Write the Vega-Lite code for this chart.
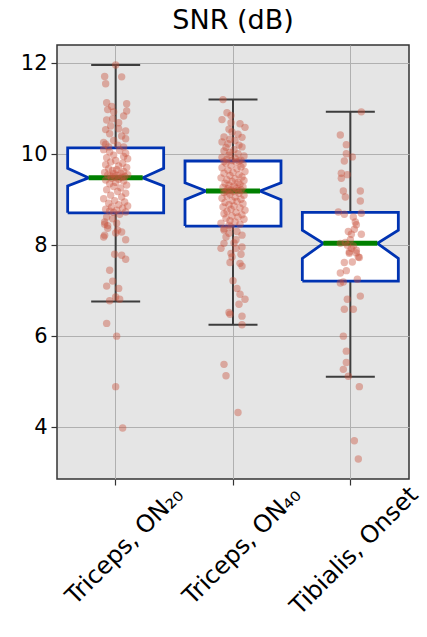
{
  "$schema": "https://vega.github.io/schema/vega-lite/v6.json",
  "autosize": "none",
  "width": 352,
  "height": 434,
  "padding": {"left": 57, "top": 45, "right": 18, "bottom": 158},
  "background": "white",
  "title": {"text": "SNR (dB)", "fontSize": 27, "font": "DejaVu Sans", "fontWeight": "normal", "color": "black", "offset": 10},
  "config": {
    "view": {"stroke": "#333333", "strokeWidth": 1.5, "fill": "#e5e5e5"},
    "axis": {"domain": false, "grid": true, "gridColor": "#b0b0b0", "gridWidth": 1, "tickColor": "#333333", "tickSize": 6, "tickWidth": 1.2, "labelColor": "black", "labelFont": "DejaVu Sans", "titleFont": "DejaVu Sans"}
  },
  "datasets": {
    "shapes": [
      {"g": "A", "part": "whisk", "k": 1, "dx": 0, "v": 6.76},
      {"g": "A", "part": "whisk", "k": 2, "dx": 0, "v": 11.96},
      {"g": "B", "part": "whisk", "k": 1, "dx": 0, "v": 6.25},
      {"g": "B", "part": "whisk", "k": 2, "dx": 0, "v": 11.20},
      {"g": "C", "part": "whisk", "k": 1, "dx": 0, "v": 5.11},
      {"g": "C", "part": "whisk", "k": 2, "dx": 0, "v": 10.93},
      {"g": "A", "part": "capLo", "k": 1, "dx": -24.5, "v": 6.76},
      {"g": "A", "part": "capLo", "k": 2, "dx": 24.5, "v": 6.76},
      {"g": "A", "part": "capHi", "k": 1, "dx": -24.5, "v": 11.96},
      {"g": "A", "part": "capHi", "k": 2, "dx": 24.5, "v": 11.96},
      {"g": "B", "part": "capLo", "k": 1, "dx": -24.5, "v": 6.25},
      {"g": "B", "part": "capLo", "k": 2, "dx": 24.5, "v": 6.25},
      {"g": "B", "part": "capHi", "k": 1, "dx": -24.5, "v": 11.20},
      {"g": "B", "part": "capHi", "k": 2, "dx": 24.5, "v": 11.20},
      {"g": "C", "part": "capLo", "k": 1, "dx": -24.5, "v": 5.11},
      {"g": "C", "part": "capLo", "k": 2, "dx": 24.5, "v": 5.11},
      {"g": "C", "part": "capHi", "k": 1, "dx": -24.5, "v": 10.93},
      {"g": "C", "part": "capHi", "k": 2, "dx": 24.5, "v": 10.93},
      {"g": "A", "part": "box", "k": 1, "dx": -48, "v": 8.71},
      {"g": "A", "part": "box", "k": 2, "dx": -48, "v": 9.30},
      {"g": "A", "part": "box", "k": 3, "dx": -27, "v": 9.48},
      {"g": "A", "part": "box", "k": 4, "dx": -48, "v": 9.69},
      {"g": "A", "part": "box", "k": 5, "dx": -48, "v": 10.14},
      {"g": "A", "part": "box", "k": 6, "dx": 48, "v": 10.14},
      {"g": "A", "part": "box", "k": 7, "dx": 48, "v": 9.69},
      {"g": "A", "part": "box", "k": 8, "dx": 27, "v": 9.48},
      {"g": "A", "part": "box", "k": 9, "dx": 48, "v": 9.30},
      {"g": "A", "part": "box", "k": 10, "dx": 48, "v": 8.71},
      {"g": "A", "part": "box", "k": 11, "dx": -48, "v": 8.71},
      {"g": "B", "part": "box", "k": 1, "dx": -48, "v": 8.42},
      {"g": "B", "part": "box", "k": 2, "dx": -48, "v": 9.00},
      {"g": "B", "part": "box", "k": 3, "dx": -27, "v": 9.19},
      {"g": "B", "part": "box", "k": 4, "dx": -48, "v": 9.37},
      {"g": "B", "part": "box", "k": 5, "dx": -48, "v": 9.85},
      {"g": "B", "part": "box", "k": 6, "dx": 48, "v": 9.85},
      {"g": "B", "part": "box", "k": 7, "dx": 48, "v": 9.37},
      {"g": "B", "part": "box", "k": 8, "dx": 27, "v": 9.19},
      {"g": "B", "part": "box", "k": 9, "dx": 48, "v": 9.00},
      {"g": "B", "part": "box", "k": 10, "dx": 48, "v": 8.42},
      {"g": "B", "part": "box", "k": 11, "dx": -48, "v": 8.42},
      {"g": "C", "part": "box", "k": 1, "dx": -48, "v": 7.21},
      {"g": "C", "part": "box", "k": 2, "dx": -48, "v": 7.71},
      {"g": "C", "part": "box", "k": 3, "dx": -27, "v": 8.04},
      {"g": "C", "part": "box", "k": 4, "dx": -48, "v": 8.33},
      {"g": "C", "part": "box", "k": 5, "dx": -48, "v": 8.72},
      {"g": "C", "part": "box", "k": 6, "dx": 48, "v": 8.72},
      {"g": "C", "part": "box", "k": 7, "dx": 48, "v": 8.33},
      {"g": "C", "part": "box", "k": 8, "dx": 27, "v": 8.04},
      {"g": "C", "part": "box", "k": 9, "dx": 48, "v": 7.71},
      {"g": "C", "part": "box", "k": 10, "dx": 48, "v": 7.21},
      {"g": "C", "part": "box", "k": 11, "dx": -48, "v": 7.21},
      {"g": "A", "part": "med", "k": 1, "dx": -27, "v": 9.48},
      {"g": "A", "part": "med", "k": 2, "dx": 27, "v": 9.48},
      {"g": "B", "part": "med", "k": 1, "dx": -27, "v": 9.19},
      {"g": "B", "part": "med", "k": 2, "dx": 27, "v": 9.19},
      {"g": "C", "part": "med", "k": 1, "dx": -27, "v": 8.04},
      {"g": "C", "part": "med", "k": 2, "dx": 27, "v": 8.04}
    ],
    "points": [
      {"g": "A", "v": 11.96, "j": 0}, {"g": "A", "v": 11.71, "j": -11}, {"g": "A", "v": 11.70, "j": 6}, {"g": "A", "v": 11.55, "j": -10},
      {"g": "A", "v": 11.13, "j": -9}, {"g": "A", "v": 11.11, "j": 11}, {"g": "A", "v": 11.05, "j": -4}, {"g": "A", "v": 10.98, "j": -8},
      {"g": "A", "v": 10.93, "j": -2}, {"g": "A", "v": 10.95, "j": 11}, {"g": "A", "v": 10.84, "j": 8}, {"g": "A", "v": 10.78, "j": -3},
      {"g": "A", "v": 10.75, "j": -9}, {"g": "A", "v": 10.69, "j": 3}, {"g": "A", "v": 10.62, "j": -5}, {"g": "A", "v": 10.54, "j": -10},
      {"g": "A", "v": 10.56, "j": 3}, {"g": "A", "v": 10.51, "j": 10}, {"g": "A", "v": 10.45, "j": -6}, {"g": "A", "v": 10.40, "j": 6},
      {"g": "A", "v": 10.34, "j": 10}, {"g": "A", "v": 10.30, "j": -2}, {"g": "A", "v": 10.22, "j": -10}, {"g": "A", "v": 10.16, "j": -7},
      {"g": "A", "v": 10.16, "j": 8}, {"g": "A", "v": 10.20, "j": 2}, {"g": "A", "v": 10.26, "j": -12},
      {"g": "A", "v": 10.10, "j": -12}, {"g": "A", "v": 10.08, "j": 4}, {"g": "A", "v": 10.05, "j": -6}, {"g": "A", "v": 10.02, "j": 10},
      {"g": "A", "v": 9.98, "j": -2}, {"g": "A", "v": 9.95, "j": 8}, {"g": "A", "v": 9.92, "j": -9}, {"g": "A", "v": 9.90, "j": 12},
      {"g": "A", "v": 9.86, "j": 0}, {"g": "A", "v": 9.83, "j": -5}, {"g": "A", "v": 9.80, "j": 7}, {"g": "A", "v": 9.77, "j": -10},
      {"g": "A", "v": 9.74, "j": 3}, {"g": "A", "v": 9.71, "j": 11}, {"g": "A", "v": 9.68, "j": -7}, {"g": "A", "v": 9.66, "j": 1},
      {"g": "A", "v": 9.64, "j": -3}, {"g": "A", "v": 9.62, "j": 8}, {"g": "A", "v": 9.60, "j": -11}, {"g": "A", "v": 9.58, "j": 5},
      {"g": "A", "v": 9.57, "j": -2}, {"g": "A", "v": 9.55, "j": 12}, {"g": "A", "v": 9.54, "j": -8}, {"g": "A", "v": 9.53, "j": 2},
      {"g": "A", "v": 9.52, "j": -5}, {"g": "A", "v": 9.51, "j": 9}, {"g": "A", "v": 9.50, "j": -1}, {"g": "A", "v": 9.49, "j": 6},
      {"g": "A", "v": 9.47, "j": -4}, {"g": "A", "v": 9.45, "j": 3}, {"g": "A", "v": 9.43, "j": -10}, {"g": "A", "v": 9.41, "j": 8},
      {"g": "A", "v": 9.38, "j": 0}, {"g": "A", "v": 9.35, "j": -6}, {"g": "A", "v": 9.32, "j": 11}, {"g": "A", "v": 9.29, "j": -2},
      {"g": "A", "v": 9.26, "j": 5}, {"g": "A", "v": 9.22, "j": -9}, {"g": "A", "v": 9.18, "j": 2}, {"g": "A", "v": 9.14, "j": 10},
      {"g": "A", "v": 9.10, "j": -5}, {"g": "A", "v": 9.06, "j": 6}, {"g": "A", "v": 9.02, "j": -12}, {"g": "A", "v": 8.98, "j": -1},
      {"g": "A", "v": 8.95, "j": 9}, {"g": "A", "v": 8.92, "j": -7}, {"g": "A", "v": 8.89, "j": 3}, {"g": "A", "v": 8.86, "j": 12},
      {"g": "A", "v": 8.84, "j": -4}, {"g": "A", "v": 8.81, "j": 7}, {"g": "A", "v": 8.79, "j": -10}, {"g": "A", "v": 8.77, "j": 1},
      {"g": "A", "v": 8.75, "j": -6}, {"g": "A", "v": 8.73, "j": 10}, {"g": "A", "v": 8.72, "j": -2},
      {"g": "A", "v": 8.68, "j": 4}, {"g": "A", "v": 8.62, "j": -9}, {"g": "A", "v": 8.58, "j": -3}, {"g": "A", "v": 8.51, "j": -11},
      {"g": "A", "v": 8.48, "j": 1}, {"g": "A", "v": 8.46, "j": -11}, {"g": "A", "v": 8.43, "j": -8}, {"g": "A", "v": 8.37, "j": -8},
      {"g": "A", "v": 8.33, "j": 2}, {"g": "A", "v": 8.29, "j": 6}, {"g": "A", "v": 8.27, "j": 0}, {"g": "A", "v": 8.22, "j": -11},
      {"g": "A", "v": 8.18, "j": -12}, {"g": "A", "v": 8.12, "j": 10}, {"g": "A", "v": 7.80, "j": -1}, {"g": "A", "v": 7.78, "j": 6},
      {"g": "A", "v": 7.69, "j": 10}, {"g": "A", "v": 7.45, "j": -6}, {"g": "A", "v": 7.21, "j": -3}, {"g": "A", "v": 7.10, "j": -9},
      {"g": "A", "v": 7.05, "j": 3}, {"g": "A", "v": 6.86, "j": 0}, {"g": "A", "v": 6.81, "j": 4}, {"g": "A", "v": 6.78, "j": -6},
      {"g": "A", "v": 6.28, "j": -9}, {"g": "A", "v": 6.00, "j": 1}, {"g": "A", "v": 4.89, "j": 0}, {"g": "A", "v": 3.98, "j": 7},

      {"g": "B", "v": 11.20, "j": -10}, {"g": "B", "v": 10.91, "j": -6}, {"g": "B", "v": 10.85, "j": -2}, {"g": "B", "v": 10.76, "j": -11},
      {"g": "B", "v": 10.69, "j": -2}, {"g": "B", "v": 10.67, "j": 7}, {"g": "B", "v": 10.59, "j": 12}, {"g": "B", "v": 10.55, "j": -4},
      {"g": "B", "v": 10.49, "j": -1}, {"g": "B", "v": 10.44, "j": 5}, {"g": "B", "v": 10.38, "j": -9}, {"g": "B", "v": 10.37, "j": 9},
      {"g": "B", "v": 10.33, "j": -3}, {"g": "B", "v": 10.30, "j": 2}, {"g": "B", "v": 10.27, "j": -11}, {"g": "B", "v": 10.23, "j": -5},
      {"g": "B", "v": 10.20, "j": 6}, {"g": "B", "v": 10.16, "j": 9}, {"g": "B", "v": 10.15, "j": -7}, {"g": "B", "v": 10.10, "j": 1},
      {"g": "B", "v": 10.07, "j": -9}, {"g": "B", "v": 10.04, "j": -3}, {"g": "B", "v": 10.01, "j": 5}, {"g": "B", "v": 9.98, "j": -4},
      {"g": "B", "v": 9.96, "j": 11}, {"g": "B", "v": 9.93, "j": -11}, {"g": "B", "v": 9.91, "j": 2}, {"g": "B", "v": 9.89, "j": -6},
      {"g": "B", "v": 9.87, "j": 8}, {"g": "B", "v": 9.86, "j": -1}, {"g": "B", "v": 9.85, "j": 6}, {"g": "B", "v": 9.84, "j": -9},
      {"g": "B", "v": 9.83, "j": 3}, {"g": "B", "v": 9.80, "j": -7}, {"g": "B", "v": 9.78, "j": 10}, {"g": "B", "v": 9.75, "j": -2},
      {"g": "B", "v": 9.72, "j": 8}, {"g": "B", "v": 9.70, "j": -11}, {"g": "B", "v": 9.68, "j": 4}, {"g": "B", "v": 9.65, "j": -5},
      {"g": "B", "v": 9.62, "j": 12}, {"g": "B", "v": 9.60, "j": 0}, {"g": "B", "v": 9.58, "j": -9}, {"g": "B", "v": 9.55, "j": 6},
      {"g": "B", "v": 9.53, "j": -3}, {"g": "B", "v": 9.50, "j": 9}, {"g": "B", "v": 9.48, "j": -12}, {"g": "B", "v": 9.46, "j": 2},
      {"g": "B", "v": 9.44, "j": -6}, {"g": "B", "v": 9.42, "j": 11}, {"g": "B", "v": 9.40, "j": -1}, {"g": "B", "v": 9.38, "j": 5},
      {"g": "B", "v": 9.36, "j": -8}, {"g": "B", "v": 9.34, "j": 7}, {"g": "B", "v": 9.32, "j": -4}, {"g": "B", "v": 9.30, "j": 1},
      {"g": "B", "v": 9.28, "j": 10}, {"g": "B", "v": 9.27, "j": -10}, {"g": "B", "v": 9.25, "j": 3}, {"g": "B", "v": 9.24, "j": -5},
      {"g": "B", "v": 9.22, "j": 8}, {"g": "B", "v": 9.21, "j": -2}, {"g": "B", "v": 9.20, "j": 5}, {"g": "B", "v": 9.19, "j": -7},
      {"g": "B", "v": 9.18, "j": 0}, {"g": "B", "v": 9.16, "j": -9}, {"g": "B", "v": 9.14, "j": 6}, {"g": "B", "v": 9.12, "j": -3},
      {"g": "B", "v": 9.10, "j": 11}, {"g": "B", "v": 9.08, "j": -6}, {"g": "B", "v": 9.06, "j": 2}, {"g": "B", "v": 9.03, "j": -11},
      {"g": "B", "v": 9.01, "j": 8}, {"g": "B", "v": 8.98, "j": -1}, {"g": "B", "v": 8.96, "j": 4}, {"g": "B", "v": 8.94, "j": -8},
      {"g": "B", "v": 8.91, "j": 10}, {"g": "B", "v": 8.89, "j": -4}, {"g": "B", "v": 8.86, "j": 1}, {"g": "B", "v": 8.84, "j": -10},
      {"g": "B", "v": 8.82, "j": 7}, {"g": "B", "v": 8.79, "j": -2}, {"g": "B", "v": 8.77, "j": 12}, {"g": "B", "v": 8.74, "j": -6},
      {"g": "B", "v": 8.72, "j": 3}, {"g": "B", "v": 8.69, "j": -9}, {"g": "B", "v": 8.67, "j": 9}, {"g": "B", "v": 8.64, "j": -1},
      {"g": "B", "v": 8.62, "j": 5}, {"g": "B", "v": 8.59, "j": -7}, {"g": "B", "v": 8.57, "j": 11}, {"g": "B", "v": 8.54, "j": -3},
      {"g": "B", "v": 8.51, "j": 2}, {"g": "B", "v": 8.48, "j": -12}, {"g": "B", "v": 8.46, "j": 7}, {"g": "B", "v": 8.44, "j": -4},
      {"g": "B", "v": 8.40, "j": -2}, {"g": "B", "v": 8.36, "j": -9}, {"g": "B", "v": 8.33, "j": -9}, {"g": "B", "v": 8.30, "j": 4},
      {"g": "B", "v": 8.26, "j": -4}, {"g": "B", "v": 8.22, "j": 9}, {"g": "B", "v": 8.18, "j": -7}, {"g": "B", "v": 8.12, "j": 3},
      {"g": "B", "v": 8.05, "j": 1}, {"g": "B", "v": 8.04, "j": -9}, {"g": "B", "v": 7.96, "j": 9}, {"g": "B", "v": 7.93, "j": -12},
      {"g": "B", "v": 7.93, "j": 3}, {"g": "B", "v": 7.82, "j": -2}, {"g": "B", "v": 7.80, "j": 8}, {"g": "B", "v": 7.74, "j": -1},
      {"g": "B", "v": 7.62, "j": -3}, {"g": "B", "v": 7.60, "j": 7}, {"g": "B", "v": 7.54, "j": 9}, {"g": "B", "v": 7.22, "j": 0},
      {"g": "B", "v": 7.05, "j": 4}, {"g": "B", "v": 6.92, "j": 7}, {"g": "B", "v": 6.81, "j": 12}, {"g": "B", "v": 6.70, "j": 6},
      {"g": "B", "v": 6.52, "j": -4}, {"g": "B", "v": 6.48, "j": -3}, {"g": "B", "v": 6.44, "j": 9}, {"g": "B", "v": 6.25, "j": 9},
      {"g": "B", "v": 5.38, "j": -9}, {"g": "B", "v": 5.13, "j": -7}, {"g": "B", "v": 4.32, "j": 5},

      {"g": "C", "v": 10.93, "j": 11}, {"g": "C", "v": 10.42, "j": -10}, {"g": "C", "v": 10.21, "j": -4}, {"g": "C", "v": 10.01, "j": -4},
      {"g": "C", "v": 9.94, "j": 2}, {"g": "C", "v": 9.85, "j": -6}, {"g": "C", "v": 9.58, "j": -9}, {"g": "C", "v": 9.55, "j": -3},
      {"g": "C", "v": 9.47, "j": -9}, {"g": "C", "v": 9.19, "j": -7}, {"g": "C", "v": 9.19, "j": 10}, {"g": "C", "v": 9.06, "j": -5},
      {"g": "C", "v": 8.97, "j": 10}, {"g": "C", "v": 8.73, "j": -12}, {"g": "C", "v": 8.68, "j": -6}, {"g": "C", "v": 8.70, "j": 11},
      {"g": "C", "v": 8.62, "j": 3}, {"g": "C", "v": 8.51, "j": 5}, {"g": "C", "v": 8.45, "j": 6}, {"g": "C", "v": 8.35, "j": 4},
      {"g": "C", "v": 8.30, "j": -2}, {"g": "C", "v": 8.24, "j": 11}, {"g": "C", "v": 8.24, "j": 1}, {"g": "C", "v": 8.12, "j": 0},
      {"g": "C", "v": 8.06, "j": -5}, {"g": "C", "v": 8.04, "j": -10}, {"g": "C", "v": 8.00, "j": -3}, {"g": "C", "v": 7.98, "j": 3},
      {"g": "C", "v": 7.93, "j": 1}, {"g": "C", "v": 7.89, "j": 6}, {"g": "C", "v": 7.85, "j": -1}, {"g": "C", "v": 7.83, "j": 6},
      {"g": "C", "v": 7.82, "j": -1}, {"g": "C", "v": 7.74, "j": 8}, {"g": "C", "v": 7.73, "j": 9}, {"g": "C", "v": 7.63, "j": 2},
      {"g": "C", "v": 7.62, "j": -6}, {"g": "C", "v": 7.44, "j": -4}, {"g": "C", "v": 7.39, "j": -10}, {"g": "C", "v": 7.25, "j": 7},
      {"g": "C", "v": 7.19, "j": -7}, {"g": "C", "v": 7.17, "j": -10}, {"g": "C", "v": 6.88, "j": 10}, {"g": "C", "v": 6.81, "j": -3},
      {"g": "C", "v": 6.59, "j": -6}, {"g": "C", "v": 6.59, "j": 3}, {"g": "C", "v": 6.00, "j": -7}, {"g": "C", "v": 5.67, "j": -4},
      {"g": "C", "v": 5.42, "j": -4}, {"g": "C", "v": 5.27, "j": -7}, {"g": "C", "v": 5.12, "j": -2}, {"g": "C", "v": 4.89, "j": 9},
      {"g": "C", "v": 3.70, "j": 4}, {"g": "C", "v": 3.30, "j": 8}
    ]
  },
  "encoding": {
    "x": {
      "field": "g", "type": "nominal",
      "scale": {"domain": ["A", "B", "C"], "paddingInner": 0, "paddingOuter": 0},
      "axis": {
        "title": null, "labelAngle": -45, "labelAlign": "right", "labelBaseline": "middle",
        "labelFontSize": 24, "labelPadding": 6, "labelOffset": 64, "labelLimit": 0,
        "labelExpr": "datum.value == 'A' ? 'Triceps, ON₂₀' : datum.value == 'B' ? 'Triceps, ON₄₀' : 'Tibialis, Onset'"
      }
    },
    "y": {
      "field": "v", "type": "quantitative",
      "scale": {"domain": [2.86, 12.4], "nice": false, "zero": false},
      "axis": {"title": null, "values": [4, 6, 8, 10, 12], "labelFontSize": 21, "labelPadding": 4}
    }
  },
  "layer": [
    {
      "data": {"name": "shapes"},
      "transform": [{"filter": "datum.part == 'whisk'"}],
      "mark": {"type": "line", "stroke": "#3d3d3d", "strokeWidth": 2},
      "encoding": {
        "xOffset": {"field": "dx", "type": "quantitative", "scale": {"domain": [-58.67, 58.67]}},
        "detail": {"field": "g"},
        "order": {"field": "k"}
      }
    },
    {
      "data": {"name": "shapes"},
      "transform": [{"filter": "datum.part == 'capLo' || datum.part == 'capHi'"}],
      "mark": {"type": "line", "stroke": "#3d3d3d", "strokeWidth": 2},
      "encoding": {
        "xOffset": {"field": "dx", "type": "quantitative"},
        "detail": [{"field": "g"}, {"field": "part"}],
        "order": {"field": "k"}
      }
    },
    {
      "data": {"name": "shapes"},
      "transform": [{"filter": "datum.part == 'box'"}],
      "mark": {"type": "line", "stroke": "#0033b2", "strokeWidth": 2.8, "fill": "white", "strokeJoin": "miter"},
      "encoding": {
        "xOffset": {"field": "dx", "type": "quantitative"},
        "detail": {"field": "g"},
        "order": {"field": "k"}
      }
    },
    {
      "data": {"name": "shapes"},
      "transform": [{"filter": "datum.part == 'med'"}],
      "mark": {"type": "line", "stroke": "#008000", "strokeWidth": 5},
      "encoding": {
        "xOffset": {"field": "dx", "type": "quantitative"},
        "detail": {"field": "g"},
        "order": {"field": "k"}
      }
    },
    {
      "data": {"name": "points"},
      "mark": {"type": "circle", "size": 55, "color": "#c8503c", "opacity": 0.42},
      "encoding": {
        "xOffset": {"field": "j", "type": "quantitative"}
      }
    }
  ]
}
